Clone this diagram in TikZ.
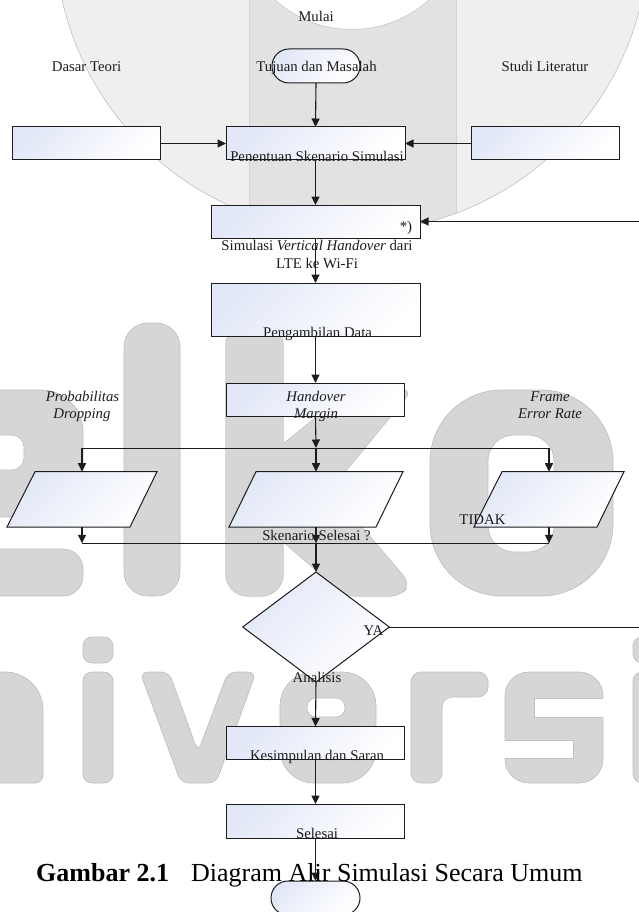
\documentclass[tikz,border=0pt]{standalone}
\usepackage{fontspec}
\setmainfont{Liberation Serif}
\usetikzlibrary{arrows.meta,shapes.geometric}
\definecolor{boxblue}{RGB}{226,232,247}
\definecolor{wmA}{RGB}{239,239,239}
\definecolor{wmB}{RGB}{226,226,226}
\definecolor{wmD}{RGB}{212,212,212}
\definecolor{wmL}{RGB}{214,214,214}
\definecolor{wmE}{RGB}{192,192,192}
\definecolor{ink}{RGB}{28,28,28}
\tikzset{
  wm/.style={fill=wmL, draw=wmE, line width=.7pt},
  wmhole/.style={fill=white, draw=wmE, line width=.7pt},
  shadefill/.style={top color=boxblue, bottom color=white, shading angle=45},
  fbox/.style={rectangle, draw=ink, line width=1pt, shadefill, inner sep=0pt, outer sep=0pt},
  term/.style={fbox, rounded corners=17pt},
  dia/.style={diamond, draw=ink, line width=1pt, shadefill, inner sep=0pt, outer sep=0pt},
  arr/.style={draw=ink, line width=1.1pt, -{Triangle[width=8pt,length=8.5pt]}},
  conn/.style={draw=ink, line width=0.9pt},
  lbl/.style={anchor=base, inner sep=0pt, text=ink, font=\fontsize{14.8pt}{17pt}\selectfont},
  captext/.style={anchor=base west, inner sep=0pt, text=black, font=\fontsize{26pt}{30pt}\selectfont}
}
\begin{document}
\begin{tikzpicture}[x=1pt,y=-1pt]
\useasboundingbox (0,0) rectangle (639,912);
\begin{scope}
\clip (0,0) rectangle (639,912);
% ---------- watermark: logo ----------
\fill[wmA] (352,-65) circle (297pt);
\begin{scope}
  \clip (352,-65) circle (297pt);
  \fill[wmB] (249,-10) rectangle (456,240);
  \draw[wmD, line width=.8pt] (249,-10) -- (249,240) (456,-10) -- (456,240);
\end{scope}
\draw[wmE, line width=.6pt] (352,-65) circle (297pt);
\filldraw[fill=white, draw=wmE, line width=.5pt] (352,-86) circle (115.4pt);
% ---------- watermark: letters row 1 ----------
\path[wm] (-80,517) [rounded corners=42pt] -- (-80,390) -- (83,390) [rounded corners=6pt] -- (83,517) -- cycle;
\path[wmhole, rounded corners=12pt] (-80,435) rectangle (24,470);
\path[wm, rounded corners=20pt] (-80,549) rectangle (83,596);
\path[wm, rounded corners=24pt] (124,323) rectangle (180,596);
\path[draw=wmE, line width=1.4pt, rounded corners=10pt] (270,455) -- (350,390) -- (412,390) -- (330,490) -- (410,584) -- (400,596) -- (346,596) -- (270,530) -- cycle;
\path[draw=wmE, line width=1.4pt, rounded corners=22pt] (226,323) rectangle (283,596);
\path[fill=wmL, rounded corners=10pt] (270,455) -- (350,390) -- (412,390) -- (330,490) -- (410,584) -- (400,596) -- (346,596) -- (270,530) -- cycle;
\path[fill=wmL, rounded corners=22pt] (226,323) rectangle (283,596);
\path[wm, rounded corners=72pt] (430,390) rectangle (613,596);
\path[wmhole, rounded corners=26pt] (488,435) rectangle (554,552);
% ---------- watermark: letters row 2 ----------
\path[wm] (-60,783) [rounded corners=38pt] -- (-60,672) -- (43,672) [rounded corners=8pt] -- (43,783) -- cycle;
\path[wm, rounded corners=9pt] (83,637) rectangle (113,663);
\path[wm, rounded corners=9pt] (83,672) rectangle (113,783);
\path[wm, rounded corners=8pt] (140,672) -- (169,672) -- (198,752) -- (228,672) -- (256,672) -- (216,783) -- (181,783) -- cycle;
\path[wm, rounded corners=34pt] (280,672) rectangle (376,783);
\path[wmhole, rounded corners=9pt] (307,698) rectangle (345,717);
\path[wm, rounded corners=10pt] (411,783) -- (411,672) -- (488,672) -- (488,697) -- (442,697) -- (442,783) -- cycle;
\path[wm, rounded corners=24pt] (505,672) rectangle (603,783);
\fill[white] (534,698) rectangle (607,717);
\draw[wmE, line width=.7pt] (603,698) -- (534,698) -- (534,717) -- (603,717);
\fill[white] (501,740) rectangle (573,758);
\draw[wmE, line width=.7pt] (505,740) -- (573,740) -- (573,758) -- (505,758);
\path[wm, rounded corners=9pt] (633,637) rectangle (662,663);
\path[wm, rounded corners=9pt] (633,672) rectangle (662,783);
% ---------- flowchart nodes ----------
\node[term, minimum width=88pt, minimum height=34pt] (start) at (316,66) {};
\node[fbox, minimum width=148pt, minimum height=33pt] (dasar) at (86,143.5) {};
\node[fbox, minimum width=179pt, minimum height=33pt] (pen) at (315.5,143.5) {};
\node[fbox, minimum width=148pt, minimum height=33pt] (studi) at (545,143.5) {};
\node[fbox, minimum width=209pt, minimum height=33pt] (sim) at (315.5,221.5) {};
\node[fbox, minimum width=209pt, minimum height=53pt] (ambil) at (315.5,309.5) {};
\node[fbox, minimum width=178pt, minimum height=33pt] (hm) at (315.5,399.5) {};
\path[draw=ink, line width=1pt, shadefill] (35,471.7) -- (157,471.7) -- (130,527) -- (7,527) -- cycle;
\path[draw=ink, line width=1pt, shadefill] (256,471.7) -- (403,471.7) -- (376,527) -- (229,527) -- cycle;
\path[draw=ink, line width=1pt, shadefill] (502,471.7) -- (624,471.7) -- (597,527) -- (474,527) -- cycle;
\coordinate (plt) at (82,471.7);  \coordinate (plb) at (82,527);
\coordinate (pmt) at (316,471.7); \coordinate (pmb) at (316,527);
\coordinate (prt) at (549,471.7); \coordinate (prb) at (549,527);
\node[dia, minimum width=146.6pt, minimum height=110pt] (dec) at (316,627) {};
\node[fbox, minimum width=178pt, minimum height=33pt] (kes) at (315.5,743) {};
\node[fbox, minimum width=178pt, minimum height=34pt] (sel) at (315.5,821) {};
\node[term, minimum width=89pt, minimum height=34pt] (fin) at (315.5,898) {};
\coordinate (rin) at (639,221.5);
\coordinate (jt) at (316,448); \coordinate (jl) at (82,448); \coordinate (jr) at (549,448);
\coordinate (bm) at (316,543.3); \coordinate (bl) at (82,543.3); \coordinate (br) at (549,543.3);
\coordinate (yaend) at (639,627);
% ---------- connectors ----------
\draw[arr] (start.south) -- (pen.north);
\draw[arr] (dasar.east) -- (pen.west);
\draw[arr] (studi.west) -- (pen.east);
\draw[arr] (pen.south) -- (sim.north);
\draw[arr] (rin) -- (sim.east);
\draw[arr] (sim.south) -- (ambil.north);
\draw[arr] (ambil.south) -- (hm.north);
\draw[arr] (hm.south) -- (jt);
\draw[conn] (jl) -- (jr);
\draw[arr] (jl) -- (plt);
\draw[arr] (jt) -- (pmt);
\draw[arr] (jr) -- (prt);
\draw[arr] (plb) -- (bl);
\draw[arr] (prb) -- (br);
\draw[arr] (pmb) -- (bm);
\draw[conn] (bl) -- (br);
\draw[arr] (bm) -- (dec.north);
\draw[conn] (dec.east) -- (yaend);
\draw[arr] (dec.south) -- (kes.north);
\draw[arr] (kes.south) -- (sel.north);
\draw[arr] (sel.south) -- (fin.north);
% ---------- labels ----------
\node[lbl] (tmulai) at (316,22) {Mulai};
\node[lbl] (tdasar) at (86.5,71.5) {Dasar Teori};
\node[lbl] (ttujuan) at (316.5,71.5) {Tujuan dan Masalah};
\node[lbl] (tstudi) at (545,71.5) {Studi Literatur};
\node[lbl] (tpen) at (317,162) {Penentuan Skenario Simulasi};
\node[lbl] (tstar) at (406,231) {*)};
\node[lbl] (tsim1) at (317,250) {Simulasi \textit{Vertical Handover} dari};
\node[lbl] (tsim2) at (317,268) {LTE ke Wi-Fi};
\node[lbl] (tpeng) at (317.5,337) {Pengambilan Data};
\node[lbl] (thand) at (316,401.5) {\itshape Handover};
\node[lbl] (tmarg) at (316,418.5) {\itshape Margin};
\node[lbl] (tprob) at (82.5,401.5) {\itshape Probabilitas};
\node[lbl] (tdrop) at (82,418.5) {\itshape Dropping};
\node[lbl] (tframe) at (550,401.5) {\itshape Frame};
\node[lbl] (terr) at (550,418.5) {\itshape Error Rate};
\node[lbl] (ttidak) at (482.5,524) {TIDAK};
\node[lbl] (tsken) at (316.5,540.5) {Skenario Selesai ?};
\node[lbl] (tya) at (373.5,635.7) {YA};
\node[lbl] (tanal) at (317,682.5) {Analisis};
\node[lbl] (tkes) at (317,760) {Kesimpulan dan Saran};
\node[lbl] (tsel) at (317,838) {Selesai};
\node[captext] (cap1) at (36,881) {\bfseries Gambar 2.1};
\node[captext] (cap2) at (191,881) {Diagram Alir Simulasi Secara Umum};
\end{scope}
\end{tikzpicture}
\end{document}
